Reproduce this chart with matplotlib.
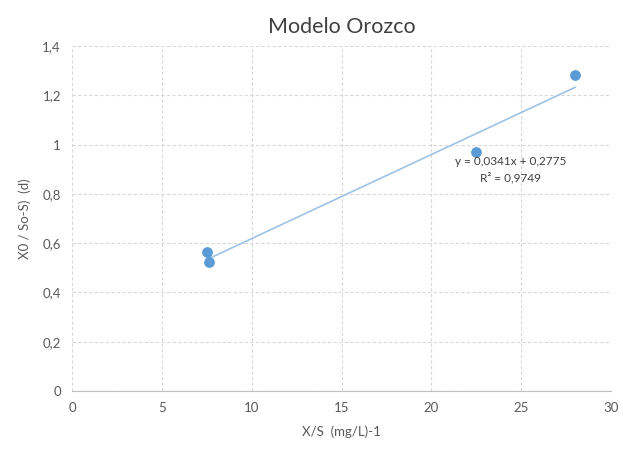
import matplotlib
matplotlib.use("Agg")
import matplotlib.pyplot as plt
import numpy as np

plt.rcParams['font.family'] = ['Lato', 'DejaVu Sans']

x_vals = [7.5, 7.6, 22.5, 28.0]
y_vals = [0.565, 0.525, 0.97, 1.282]
slope = 0.0341
intercept = 0.2775
eq_text = "y = 0,0341x + 0,2775\nR² = 0,9749"
x_ticks = [0, 5, 10, 15, 20, 25, 30]
y_ticks = [0, 0.2, 0.4, 0.6, 0.8, 1.0, 1.2, 1.4]
y_tick_labels = ["0", "0,2", "0,4", "0,6", "0,8", "1", "1,2", "1,4"]

fig = plt.figure(figsize=(6.23, 4.55), dpi=100)
ax = fig.add_axes([0.1156, 0.1407, 0.8654, 0.7583])

ax.scatter(x_vals, y_vals, s=45, color="#5b9bd5", zorder=3)
xl = np.array([min(x_vals), max(x_vals)])
ax.plot(xl, slope * xl + intercept, color="#9dc3e6", lw=1.2, zorder=2)

ax.set_xlim(0, 30)
ax.set_ylim(0, 1.4)
ax.set_xticks(x_ticks)
ax.set_yticks(y_ticks)
ax.set_yticklabels(y_tick_labels)
ax.grid(True, color="#d9d9d9", ls=(0, (3, 2)), lw=0.8)
ax.set_axisbelow(True)
for s in ["top", "right", "left"]:
    ax.spines[s].set_visible(False)
ax.spines["bottom"].set_color("#bfbfbf")
ax.tick_params(length=0, labelsize=9.5, colors="#595959", pad=8)

ax.set_title("Modelo Orozco", fontsize=15.5, color="#404040", pad=9)
ax.set_xlabel("X/S  (mg/L)-1", fontsize=9.5, color="#595959", labelpad=8)
ax.set_ylabel("X0 / So-S)  (d)", fontsize=9.5, color="#595959", labelpad=8)

ax.text(24.4, 0.955, eq_text, ha="center", va="top", fontsize=8.5,
        color="#404040", linespacing=1.55)

fig.savefig("out.png", dpi=100)
